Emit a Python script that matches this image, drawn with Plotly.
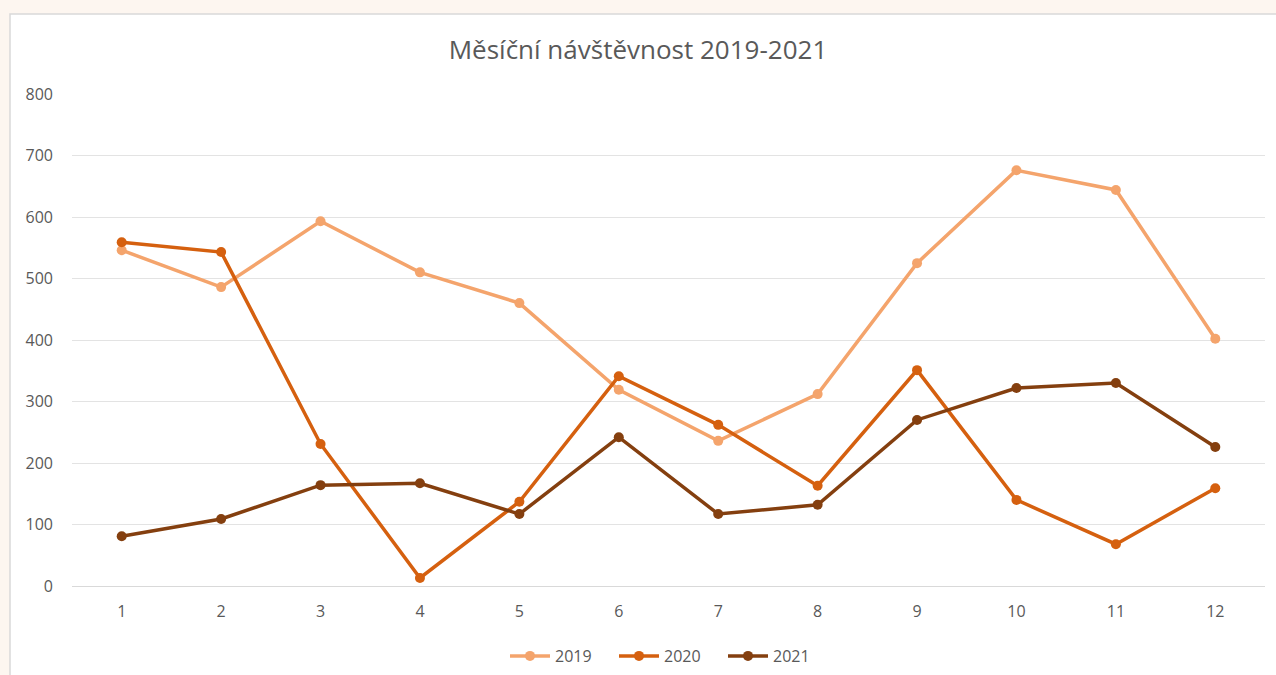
import plotly.graph_objects as go

months = [1, 2, 3, 4, 5, 6, 7, 8, 9, 10, 11, 12]
v2019 = [546, 486, 593, 510, 460, 319, 236, 312, 525, 676, 644, 402]
v2020 = [559, 543, 231, 13, 137, 341, 262, 163, 351, 140, 68, 159]
v2021 = [81, 109, 164, 167, 117, 242, 117, 132, 270, 322, 330, 226]
series_names = ["2019", "2020", "2021"]
colors = ["#f4a46c", "#d5600f", "#843f0f"]

W, H = 1276, 675
L, R, T, B = 72, 11, 94, 89
pw, ph = W - L - R, H - T - B

fig = go.Figure()
for name, vals, c in zip(series_names, [v2019, v2020, v2021], colors):
    fig.add_trace(go.Scatter(
        x=months, y=vals, name=name, mode="lines+markers",
        line=dict(color=c, width=3.5),
        marker=dict(color=c, size=10),
    ))

def px_x(p):
    return (p - L) / pw

def px_y(p):
    return (H - B - p) / ph

fig.add_shape(type="rect", xref="paper", yref="paper",
              x0=px_x(10), x1=px_x(1300), y0=px_y(700), y1=px_y(14),
              fillcolor="white", line=dict(color="#d9d9d9", width=1.5),
              layer="below")

fig.update_layout(
    width=W, height=H,
    margin=dict(l=L, r=R, t=T, b=B, autoexpand=False),
    paper_bgcolor="#fdf6f0",
    plot_bgcolor="rgba(0,0,0,0)",
    font=dict(family="Open Sans, Liberation Sans, sans-serif", color="#595959", size=16),
    title=dict(text="Měsíční návštěvnost 2019-2021", x=0.5, xanchor="center",
               y=1 - 50 / H, yanchor="middle", yref="container",
               font=dict(size=26, color="#595959")),
    xaxis=dict(range=[0.5, 12.5], tickvals=months, ticktext=[str(m) for m in months],
               showgrid=False, zeroline=False, showline=False, ticks="",
               ticklabelstandoff=14,
               tickfont=dict(size=16, color="#595959")),
    yaxis=dict(range=[0, 800], dtick=100, showgrid=True, gridcolor="#e3e3e3",
               gridwidth=1, zeroline=True, zerolinecolor="#d9d9d9", zerolinewidth=1,
               showline=False, ticks="", ticklabelstandoff=18,
               tickfont=dict(size=16, color="#595959")),
    legend=dict(orientation="h", x=0.5, xanchor="center", y=px_y(656), yanchor="middle",
                font=dict(size=16, color="#595959"), bgcolor="rgba(0,0,0,0)",
                entrywidth=54, itemwidth=40),
    showlegend=True,
)

post = (
    "document.documentElement.style.cssText='margin:0;padding:0;height:675px;overflow:hidden;background:#ffffff';"
    "document.body.style.cssText='margin:0;padding:0;height:675px;overflow:hidden;';"
)
fig.write_html("out.html", config={"displayModeBar": False}, post_script=post)
